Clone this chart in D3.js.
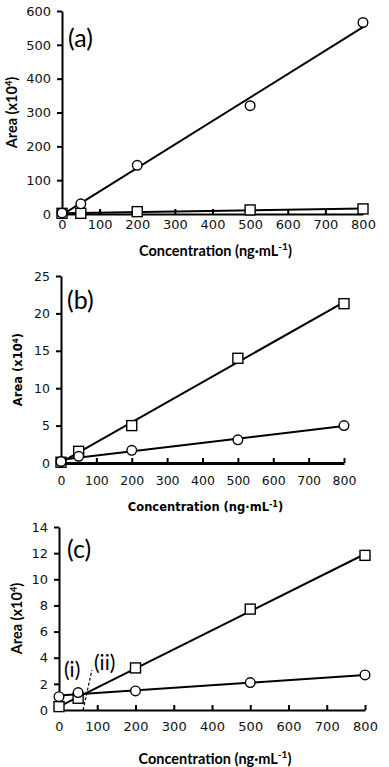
<!DOCTYPE html>
<html>
<head>
<meta charset="utf-8">
<script src="https://cdn.jsdelivr.net/npm/d3@7"></script>
<style>
  html, body { margin: 0; padding: 0; background: white; }
  svg { display: block; }
</style>
</head>
<body>
<svg width="389" height="767"></svg>
<script>
// === Data

const CONC = [0, 50, 200, 500, 800];
const X_TICKS = [0, 100, 200, 300, 400, 500, 600, 700, 800];

const A_CIRCLE = [3, 30, 144, 320, 566];
const A_SQUARE = [2, 2, 7, 12, 15];
const A_Y_TICKS = [0, 100, 200, 300, 400, 500, 600];

const B_CIRCLE = [0.2, 0.9, 1.7, 3.1, 5.0];
const B_SQUARE = [0.1, 1.56, 5.0, 14.0, 21.3];
const B_Y_TICKS = [0, 5, 10, 15, 20, 25];

const C_CIRCLE = [1.02, 1.33, 1.46, 2.1, 2.68];
const C_SQUARE = [0.26, 0.9, 3.22, 7.72, 11.83];
const C_Y_TICKS = [0, 2, 4, 6, 8, 10, 12, 14];
// dashed mark between regions (i) and (ii)
const C_DASH_X = [63, 86];
const C_DASH_Y = [0, 3.05];


// === Layout

const PANELS = [
  { name: '(a)', circle: A_CIRCLE, square: A_SQUARE, yTicks: A_Y_TICKS,
    x0: 62, x1: 363, y0: 214, y1: 11, tickFont: 13,
    titleFamily: 'Lato, sans-serif', titleFont: 14.5,
    xPad: 6, xAxisWidth: 2, xTitleY: 256, yTitleX: 17,
    label: { x: 68, y: 47 } },
  { name: '(b)', circle: B_CIRCLE, square: B_SQUARE, yTicks: B_Y_TICKS,
    x0: 61, x1: 344, y0: 463, y1: 276, tickFont: 12.5,
    titleFamily: '"DejaVu Sans", sans-serif', titleFont: 11.5,
    xPad: 13, xAxisWidth: 3, xTitleY: 511, yTitleX: 22,
    label: { x: 67, y: 309 } },
  { name: '(c)', circle: C_CIRCLE, square: C_SQUARE, yTicks: C_Y_TICKS,
    x0: 59, x1: 365, y0: 710, y1: 527, tickFont: 13,
    titleFamily: 'Lato, sans-serif', titleFont: 14.5,
    xPad: 12, xAxisWidth: 2, xTitleY: 764, yTitleX: 22,
    label: { x: 67, y: 558 } }
];
const TICK_FAMILY = '"DejaVu Sans", sans-serif';


// === Helpers

function fit(xs, ys) {
  const mx = d3.mean(xs), my = d3.mean(ys);
  const sxy = d3.sum(xs, (x, i) => (x - mx) * (ys[i] - my));
  const sxx = d3.sum(xs, x => (x - mx) * (x - mx));
  const slope = sxy / sxx;
  return { slope: slope, intercept: my - slope * mx };
}

function drawPanel(svg, p) {
  const x = d3.scaleLinear().domain([0, 800]).range([p.x0, p.x1]);
  const yMax = p.yTicks[p.yTicks.length - 1];
  const y = d3.scaleLinear().domain([0, yMax]).range([p.y0, p.y1]);
  const g = svg.append('g');

  // axes
  const yAxis = g.append('g')
    .attr('transform', `translate(${p.x0},0)`)
    .call(d3.axisLeft(y).tickValues(p.yTicks).tickSize(5).tickSizeOuter(0).tickPadding(6));
  const xAxis = g.append('g')
    .attr('transform', `translate(0,${p.y0})`)
    .call(d3.axisBottom(x).tickValues(X_TICKS).tickSize(-5).tickSizeOuter(0).tickPadding(p.xPad));
  [yAxis, xAxis].forEach(a => {
    a.attr('font-family', TICK_FAMILY).attr('font-size', p.tickFont);
    a.selectAll('text').attr('fill', '#111');
    a.selectAll('line').attr('stroke', '#000').attr('stroke-width', 2);
  });
  yAxis.select('.domain').attr('stroke', '#000').attr('stroke-width', 2);
  xAxis.select('.domain').attr('stroke', '#000').attr('stroke-width', p.xAxisWidth);

  // trend lines
  [p.circle, p.square].forEach(series => {
    const f = fit(CONC, series);
    g.append('line')
      .attr('x1', x(0)).attr('y1', y(f.intercept))
      .attr('x2', x(800)).attr('y2', y(f.intercept + f.slope * 800))
      .attr('stroke', '#000').attr('stroke-width', 2);
  });

  // markers
  g.selectAll('rect.sq').data(p.square).enter().append('rect')
    .attr('class', 'sq')
    .attr('x', (d, i) => x(CONC[i]) - 5).attr('y', d => y(d) - 5)
    .attr('width', 10).attr('height', 10)
    .attr('fill', 'white').attr('stroke', '#000').attr('stroke-width', 1.4);
  g.selectAll('circle.ci').data(p.circle).enter().append('circle')
    .attr('class', 'ci')
    .attr('cx', (d, i) => x(CONC[i])).attr('cy', d => y(d))
    .attr('r', 4.8)
    .attr('fill', 'white').attr('stroke', '#000').attr('stroke-width', 1.4);

  // titles
  const yt = g.append('text')
    .attr('transform', `translate(${p.yTitleX},${(p.y0 + p.y1) / 2}) rotate(-90)`)
    .attr('text-anchor', 'middle').attr('font-weight', 'bold')
    .attr('font-family', p.titleFamily).attr('font-size', p.titleFont);
  yt.append('tspan').text('Area (x10');
  yt.append('tspan').attr('baseline-shift', 'super').attr('font-size', '65%').text('4');
  yt.append('tspan').text(')');

  const xt = g.append('text')
    .attr('x', (p.x0 + p.x1) / 2 + 3).attr('y', p.xTitleY)
    .attr('text-anchor', 'middle').attr('font-weight', 'bold')
    .attr('font-family', p.titleFamily).attr('font-size', p.titleFont);
  xt.append('tspan').text('Concentration (ng\u00b7mL');
  xt.append('tspan').attr('baseline-shift', 'super').attr('font-size', '70%').text('-1');
  xt.append('tspan').text(')');

  g.append('text')
    .attr('x', p.label.x).attr('y', p.label.y)
    .attr('font-family', 'Lato, sans-serif').attr('font-size', 25)
    .text(p.name);

  return { x: x, y: y, g: g };
}


// === Main

const svg = d3.select('svg');
const drawn = PANELS.map(p => drawPanel(svg, p));

// annotations on (c)
const c = drawn[2];
c.g.append('line')
  .attr('x1', c.x(C_DASH_X[0])).attr('y1', c.y(C_DASH_Y[0]))
  .attr('x2', c.x(C_DASH_X[1])).attr('y2', c.y(C_DASH_Y[1]))
  .attr('stroke', '#000').attr('stroke-width', 1.2).attr('stroke-dasharray', '3,2');
c.g.append('text').attr('x', 64).attr('y', 677)
  .attr('font-family', 'Lato, sans-serif').attr('font-size', 21).text('(i)');
c.g.append('text').attr('x', 94).attr('y', 670)
  .attr('font-family', 'Lato, sans-serif').attr('font-size', 21).text('(ii)');
</script>
</body>
</html>
